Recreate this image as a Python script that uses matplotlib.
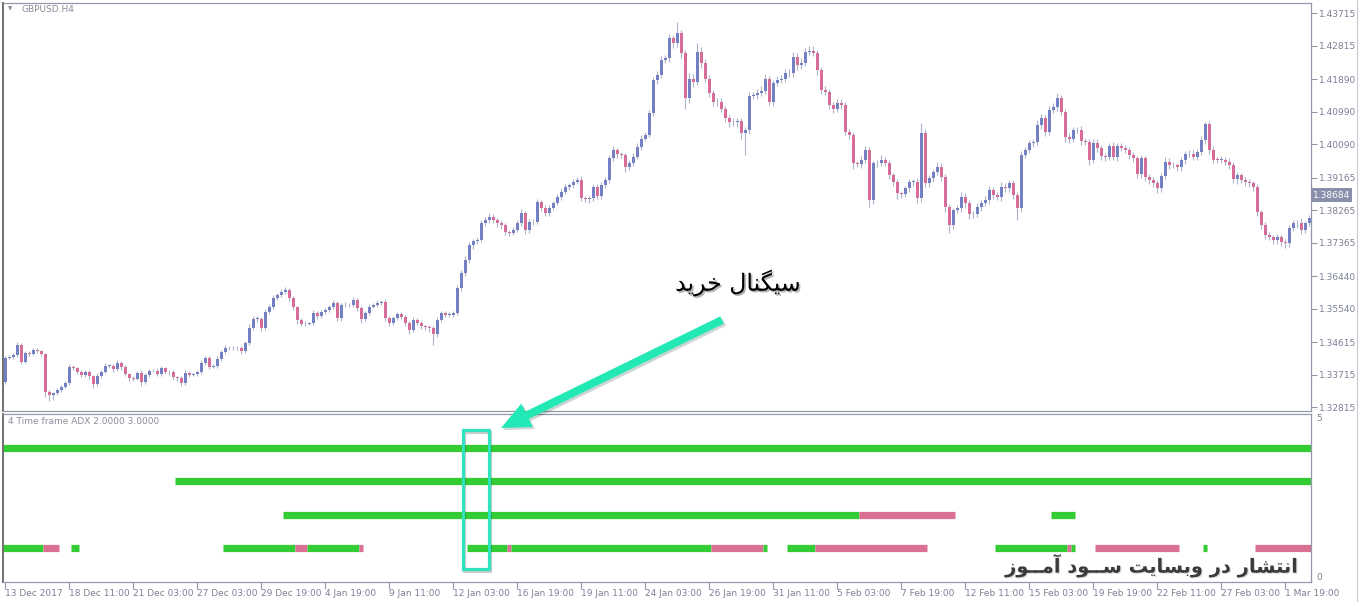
import numpy as np
import matplotlib
matplotlib.use('Agg')
import matplotlib.pyplot as plt
from matplotlib.patches import Rectangle, FancyArrow
from matplotlib.lines import Line2D
import matplotlib.patheffects as pe

# ---------------- data ----------------
symbol = "GBPUSD.H4"
indicator_name = "4 Time frame ADX 2.0000 3.0000"
title_fa = "سیگنال خرید"
watermark_fa = "انتشار در وبسایت ســود آمــوز"
current_price = 1.38684

first_open = 1.3351
closes = [
    1.3418,1.3420,1.3426,1.3454,1.3407,1.3432,1.3430,1.3440,1.3437,1.3429,
    1.3324,1.3315,1.3321,1.3329,1.3338,1.3349,1.3393,1.3390,1.3379,1.3371,
    1.3379,1.3368,1.3346,1.3368,1.3379,1.3396,1.3397,1.3387,1.3404,1.3393,
    1.3373,1.3362,1.3361,1.3376,1.3351,1.3371,1.3382,1.3383,1.3373,1.3390,
    1.3379,1.3378,1.3365,1.3362,1.3349,1.3376,1.3371,1.3373,1.3379,1.3404,
    1.3418,1.3393,1.3396,1.3415,1.3434,1.3445,1.3446,1.3445,1.3446,1.3437,
    1.3459,1.3501,1.3526,1.3527,1.3501,1.3545,1.3559,1.3584,1.3592,1.3600,
    1.3606,1.3584,1.3559,1.3523,1.3512,1.3513,1.3514,1.3542,1.3534,1.3545,
    1.3551,1.3559,1.3570,1.3528,1.3564,1.3565,1.3564,1.3578,1.3556,1.3526,
    1.3542,1.3559,1.3564,1.3570,1.3573,1.3528,1.3515,1.3528,1.3540,1.3531,
    1.3515,1.3495,1.3523,1.3515,1.3506,1.3504,1.3501,1.3484,1.3523,1.3542,
    1.3537,1.3538,1.3542,1.3611,1.3653,1.3689,1.3730,1.3741,1.3744,1.3791,
    1.3800,1.3808,1.3800,1.3791,1.3786,1.3766,1.3764,1.3772,1.3791,1.3819,
    1.3772,1.3794,1.3795,1.3849,1.3833,1.3819,1.3833,1.3847,1.3863,1.3877,
    1.3891,1.3896,1.3905,1.3910,1.3860,1.3859,1.3860,1.3891,1.3866,1.3896,
    1.3910,1.3971,1.3993,1.3982,1.3979,1.3947,1.3957,1.3975,1.4002,1.4025,
    1.4035,1.4095,1.4187,1.4201,1.4242,1.4247,1.4302,1.4288,1.4316,1.4261,
    1.4136,1.4191,1.4182,1.4265,1.4233,1.4191,1.4150,1.4127,1.4126,1.4108,
    1.4081,1.4071,1.4070,1.4074,1.4039,1.4048,1.4143,1.4145,1.4150,1.4157,
    1.4190,1.4127,1.4178,1.4187,1.4191,1.4205,1.4207,1.4251,1.4228,1.4235,
    1.4265,1.4268,1.4261,1.4214,1.4159,1.4154,1.4118,1.4106,1.4124,1.4118,
    1.4044,1.4035,1.3956,1.3955,1.3967,1.3993,1.3855,1.3956,1.3957,1.3967,
    1.3958,1.3924,1.3905,1.3873,1.3872,1.3887,1.3905,1.3906,1.3860,1.4039,
    1.3901,1.3915,1.3933,1.3947,1.3919,1.3836,1.3786,1.3827,1.3832,1.3864,
    1.3846,1.3816,1.3817,1.3836,1.3847,1.3855,1.3883,1.3869,1.3864,1.3892,
    1.3887,1.3901,1.3869,1.3832,1.3979,1.3993,1.4012,1.4016,1.4062,1.4081,
    1.4044,1.4104,1.4113,1.4136,1.4099,1.4030,1.4025,1.4048,1.4049,1.4019,
    1.4016,1.3965,1.4013,1.3998,1.3977,1.3975,1.4004,1.3975,1.4004,1.3998,
    1.3993,1.3979,1.3970,1.3927,1.3970,1.3919,1.3910,1.3901,1.3887,1.3922,
    1.3961,1.3952,1.3951,1.3945,1.3965,1.3982,1.3983,1.3975,1.3988,1.4021,
    1.4064,1.3993,1.3967,1.3966,1.3967,1.3961,1.3952,1.3912,1.3924,1.3910,
    1.3905,1.3901,1.3890,1.3822,1.3786,1.3758,1.3753,1.3744,1.3752,1.3740,
    1.3735,1.3777,1.3790,1.3792,1.3772,1.3790,1.3804,
]
# upper / lower shadow lengths in pips
upper_wick = [
    4,6,5,8,6,5,4,6,5,4, 3,5,4,5,6,4,8,5,4,6, 5,6,4,7,5,8,5,4,9,6,
    5,4,6,5,8,6,5,4,6,5, 4,5,6,4,5,9,5,4,6,8, 6,5,4,8,6,9,5,6,4,5,
    6,10,8,6,5,9,7,8,6,9, 8,6,5,4,5,6,4,8,6,5, 6,5,9,6,5,7,5,9,6,5,
    6,8,5,7,6,9,5,6,4,5, 6,5,8,6,5,4,6,5,7,6, 5,6,7,8,9,10,8,7,9,8,
    9,10,7,6,8,6,5,9,8,10, 6,8,7,9,6,7,8,6,9,10, 8,7,9,8,12,6,7,9,8,10,
    9,8,10,7,6,5,8,9,10,9, 8,10,9,11,10,9,12,10,32,8, 10,15,12,24,14,12,10,9,11,10,
    8,9,10,7,9,8,10,9,11,12, 14,9,10,11,9,12,10,13,11,12, 10,14,12,9,8,10,9,8,10,11,
    9,8,7,6,9,10,8,7,9,12, 8,7,6,9,8,7,9,8,10,28, 12,10,9,14,10,9,8,7,10,12,
    9,8,7,10,9,11,12,9,8,14, 9,10,8,7,12,9,10,8,14,11, 10,12,9,14,10,9,11,8,9,10,
    8,9,10,12,8,9,10,11,9,8, 9,8,10,7,9,8,7,9,10,8, 12,9,8,7,10,8,9,10,8,12,
    8,9,10,8,9,8,10,9,8,7, 8,9,7,8,6,7,8,6,9,7, 8,9,10,9,12,8,10,
]
lower_wick = [
    5,4,6,5,7,4,6,5,4,6, 14,15,12,6,5,4,6,5,6,5, 6,8,12,5,6,4,5,7,6,8,
    6,7,8,5,10,6,5,4,6,5, 5,6,7,8,9,5,6,4,5,6, 5,6,4,7,5,6,4,6,5,7,
    6,5,7,9,8,6,5,6,7,5, 6,8,9,10,7,6,5,4,8,6, 5,6,5,8,9,6,5,4,7,10,
    6,5,4,6,5,7,9,6,5,6, 8,10,6,7,9,8,10,30,8,6, 5,6,7,5,8,9,7,10,8,6,
    7,8,9,10,12,8,9,7,6,8, 10,8,7,6,9,8,7,6,5,7, 6,7,8,6,9,10,12,8,7,9,
    8,9,7,10,9,14,10,8,7,9, 8,7,9,10,8,9,10,12,9,14, 30,12,14,10,12,9,10,13,12,10,
    11,14,9,12,15,60,10,9,11,8, 9,10,12,9,8,10,9,11,12,10, 9,10,8,12,10,9,11,10,8,12,
    10,12,14,9,11,10,19,10,9,8, 9,10,12,14,11,9,10,12,14,11, 10,9,11,10,12,14,22,10,9,11,
    12,14,10,9,11,8,10,12,9,11, 10,9,11,33,10,9,8,10,9,11, 12,10,9,11,10,14,12,10,9,11,
    10,12,9,11,10,12,9,10,11,8, 9,10,11,12,10,11,12,9,14,10, 9,10,8,11,9,10,8,9,10,8,
    10,12,9,8,10,9,11,10,12,9, 10,9,11,12,10,11,9,12,10,11, 14,10,9,12,10,9,8,
]

price_ticks = [1.43715, 1.42815, 1.41890, 1.40990, 1.40090, 1.39165, 1.38265,
               1.37365, 1.36440, 1.35540, 1.34615, 1.33715, 1.32815]
time_tick_bars = list(range(0, 321, 16))
time_labels = ["13 Dec 2017", "18 Dec 11:00", "21 Dec 03:00", "27 Dec 03:00",
               "29 Dec 19:00", "4 Jan 19:00", "9 Jan 11:00", "12 Jan 03:00",
               "16 Jan 19:00", "19 Jan 11:00", "24 Jan 03:00", "26 Jan 19:00",
               "31 Jan 11:00", "5 Feb 03:00", "7 Feb 19:00", "12 Feb 11:00",
               "15 Feb 03:00", "19 Feb 19:00", "22 Feb 11:00", "27 Feb 03:00",
               "1 Mar 19:00"]

# indicator runs: (first bar, last bar, state) for each timeframe row
adx_rows = {
    4: [(0, 326, 'up')],
    3: [(43, 326, 'up')],
    2: [(70, 213, 'up'), (214, 237, 'down'), (262, 267, 'up')],
    1: [(0, 9, 'up'), (10, 13, 'down'), (17, 18, 'up'),
        (55, 72, 'up'), (73, 75, 'down'), (76, 88, 'up'), (89, 89, 'down'),
        (116, 125, 'up'), (126, 126, 'down'), (127, 176, 'up'),
        (177, 189, 'down'), (190, 190, 'up'),
        (196, 202, 'up'), (203, 230, 'down'),
        (248, 265, 'up'), (266, 266, 'down'), (267, 267, 'up'),
        (273, 293, 'down'), (300, 300, 'up'), (313, 326, 'down')],
}
signal_bars = (115, 120)

# ---------------- persian shaping ----------------
FORMS = {  # isolated, final, initial, medial
    '\u0627': ('\uFE8D', '\uFE8E', None, None),
    '\u0622': ('\uFE81', '\uFE82', None, None),
    '\u0628': ('\uFE8F', '\uFE90', '\uFE91', '\uFE92'),
    '\u062A': ('\uFE95', '\uFE96', '\uFE97', '\uFE98'),
    '\u062E': ('\uFEA5', '\uFEA6', '\uFEA7', '\uFEA8'),
    '\u062F': ('\uFEA9', '\uFEAA', None, None),
    '\u0631': ('\uFEAD', '\uFEAE', None, None),
    '\u0632': ('\uFEAF', '\uFEB0', None, None),
    '\u0633': ('\uFEB1', '\uFEB2', '\uFEB3', '\uFEB4'),
    '\u0634': ('\uFEB5', '\uFEB6', '\uFEB7', '\uFEB8'),
    '\u0644': ('\uFEDD', '\uFEDE', '\uFEDF', '\uFEE0'),
    '\u0645': ('\uFEE1', '\uFEE2', '\uFEE3', '\uFEE4'),
    '\u0646': ('\uFEE5', '\uFEE6', '\uFEE7', '\uFEE8'),
    '\u0648': ('\uFEED', '\uFEEE', None, None),
    '\u06CC': ('\uFBFC', '\uFBFD', '\uFBFE', '\uFBFF'),
    '\u06AF': ('\uFB92', '\uFB93', '\uFB94', '\uFB95'),
    '\u0640': ('\u0640', '\u0640', '\u0640', '\u0640'),
}


def shape(text):
    out = []
    for i, c in enumerate(text):
        if c not in FORMS:
            out.append(c)
            continue
        prev = text[i - 1] if i > 0 else None
        nxt = text[i + 1] if i + 1 < len(text) else None
        jp = prev in FORMS and FORMS[prev][2] is not None
        jn = nxt in FORMS and FORMS[c][2] is not None
        iso, fin, ini, med = FORMS[c]
        if jp and jn:
            out.append(med)
        elif jp:
            out.append(fin)
        elif jn:
            out.append(ini)
        else:
            out.append(iso)
    return ''.join(reversed(out))


# ---------------- figure ----------------
W, H = 1360, 602
fig = plt.figure(figsize=(W / 100, H / 100), dpi=100)
fig.patch.set_facecolor('white')


def fx(px):
    return px / W


def fy(py):
    return 1 - py / H


L, R = 3, 1311
ax = fig.add_axes([fx(L), fy(411), (R - L) / W, (411 - 3) / H])
axi = fig.add_axes([fx(L), fy(582), (R - L) / W, (582 - 414) / H])

axis_col = '#9498aa'
lab_col = '#7c8096'
bull = '#7480c4'
bear = '#d86c98'
wick_col = '#aeb3cd'
green = '#33cc33'
pink = '#db7093'

n = len(closes)
x = np.arange(n)
c = np.array(closes)
o = np.concatenate([[first_open], c[:-1]])
top = np.maximum(o, c)
bot = np.minimum(o, c)
hi = top + np.array(upper_wick) * 0.0001
lo = bot - np.array(lower_wick) * 0.0001
cols = np.where(c >= o, bull, bear)

ax.vlines(x, lo, hi, color=wick_col, lw=0.8, zorder=1)
ax.bar(x, np.maximum(top - bot, 0.00012), bottom=bot, width=0.75,
       color=cols, linewidth=0, zorder=2)

ax.set_xlim(-0.5, n - 0.5)
ax.set_ylim(1.32712, 1.4400)
ax.yaxis.tick_right()
ax.set_yticks(price_ticks)
ax.set_yticklabels([f"{p:.5f}" for p in price_ticks])
ax.tick_params(axis='y', direction='out', length=4, width=0.8, color=axis_col,
               labelsize=6.5, labelcolor=lab_col, pad=2)
ax.set_xticks([])
for s in ax.spines.values():
    s.set_color(axis_col)
    s.set_linewidth(0.9)
ax.spines['left'].set_color('#707070')
ax.spines['left'].set_linewidth(1.4)

ax.text(1.0015, current_price, f"{current_price:.5f}", transform=ax.get_yaxis_transform(),
        ha='left', va='center', fontsize=6.5, color='white', clip_on=False,
        bbox=dict(boxstyle='square,pad=0.25', fc='#8a90ac', ec='none'))

fig.text(fx(8), fy(9), '\u25BC', fontsize=4, color='#8a8e9a', va='center', ha='left')
fig.text(fx(21), fy(9), symbol, fontsize=6.5, color='#8a8e9a', va='center', ha='left')

# indicator panel
for level, runs in adx_rows.items():
    for a, b, state in runs:
        axi.hlines(level, a - 0.5, b + 0.5, color=green if state == 'up' else pink,
                   lw=5.2, zorder=2)
axi.set_xlim(-0.5, n - 0.5)
axi.set_ylim(0, 5)
axi.yaxis.tick_right()
axi.set_yticks([5, 0])
axi.set_yticklabels(['5', '0'])
axi.tick_params(axis='y', length=0, labelsize=6.5, labelcolor=lab_col, pad=4)
yl = axi.get_yticklabels()
yl[0].set_va('top')
yl[1].set_va('bottom')
axi.set_xticks(time_tick_bars)
axi.set_xticklabels(time_labels, ha='left')
axi.tick_params(axis='x', direction='out', length=5, width=0.8, color=axis_col,
                labelsize=6.5, labelcolor=lab_col, pad=0)
for s in axi.spines.values():
    s.set_color(axis_col)
    s.set_linewidth(0.9)
axi.spines['left'].set_color('#707070')
axi.spines['left'].set_linewidth(1.4)
axi.text(0.004, 0.955, indicator_name, transform=axi.transAxes, fontsize=6.5,
         color='#8a8e9a', va='center', ha='left')

# signal rectangle around the entry bars
axi.add_patch(Rectangle((signal_bars[0] - 0.5, 0.38), signal_bars[1] - signal_bars[0] + 1.5, 4.14,
                        fill=False, ec='#2ee3bd', lw=2.3, zorder=4, clip_on=False,
                        path_effects=[pe.SimpleLineShadow(offset=(1, -1), alpha=0.2),
                                      pe.Normal()]))

# watermark
fig.text(fx(1300), fy(566), shape(watermark_fa), fontsize=14, weight='bold',
         color='#3a3a3a', ha='right', va='center', family='DejaVu Sans',
         path_effects=[pe.withSimplePatchShadow(offset=(0.8, -0.8), alpha=0.15)])

# overlay for the annotation arrow and title
ov = fig.add_axes([0, 0, 1, 1], facecolor='none')
ov.set_xlim(0, W)
ov.set_ylim(H, 0)
ov.axis('off')
ov.add_patch(FancyArrow(722, 320, -221, 108, width=8, head_width=26, head_length=29,
                        length_includes_head=True, color='#22e8b5', lw=0,
                        path_effects=[pe.withSimplePatchShadow(offset=(1.5, -1.5), alpha=0.22)]))
ov.text(738, 283, shape(title_fa), fontsize=17, ha='center', va='center', color='black',
        family='DejaVu Sans',
        path_effects=[pe.withSimplePatchShadow(offset=(1.2, -1.2), alpha=0.3)])
fig.add_artist(Line2D([fx(1357), fx(1357)], [0, 1], color='#c8c8d0', lw=0.8))

fig.savefig('out.png', dpi=100, facecolor='white')
